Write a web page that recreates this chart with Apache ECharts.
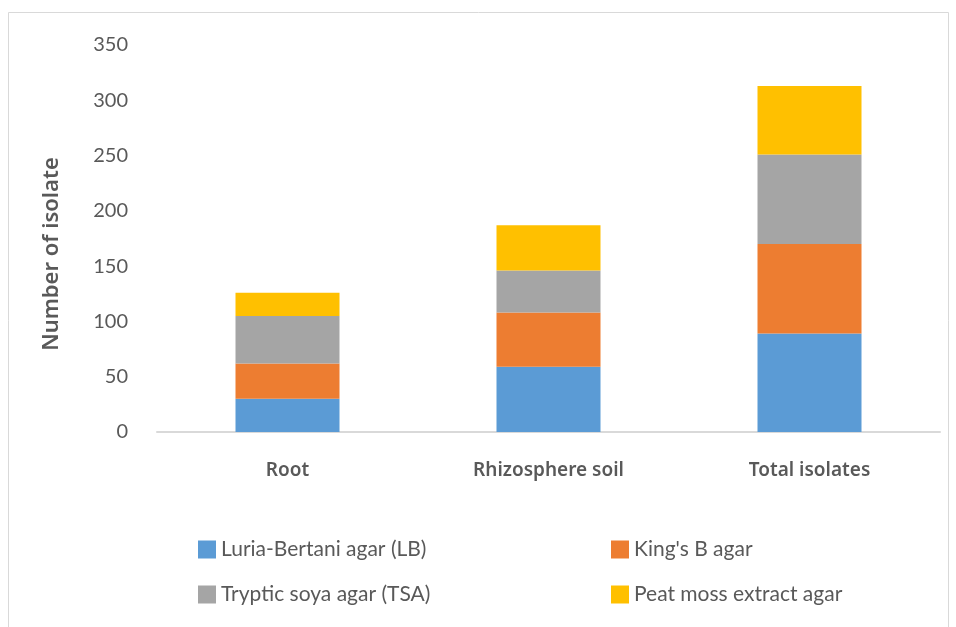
<!DOCTYPE html>
<html>
<head>
<meta charset="utf-8">
<script src="https://cdn.jsdelivr.net/npm/echarts@6/dist/echarts.min.js"></script>
<style>
  html, body { margin: 0; padding: 0; background: #ffffff; }
  #chart { width: 956px; height: 627px; }
</style>
</head>
<body>
<div id="chart"></div>
<script>
// Isolation sources and the number of isolates recovered on each medium
const categories = ['Root', 'Rhizosphere soil', 'Total isolates'];
const seriesNames = ['Luria-Bertani agar (LB)', "King's B agar", 'Tryptic soya agar (TSA)', 'Peat moss extract agar'];
const lbValues = [30, 59, 89];
const kingsBValues = [32, 49, 81];
const tsaValues = [43, 38, 81];
const peatMossValues = [21, 41, 62];
const yTicks = { min: 0, max: 350, interval: 50 };
const yAxisTitle = 'Number of isolate';

const colors = ['#5B9BD5', '#ED7D31', '#A5A5A5', '#FFC000'];
const valueSets = [lbValues, kingsBValues, tsaValues, peatMossValues];

const chart = echarts.init(document.getElementById('chart'));

const legendCommon = {
  orient: 'vertical',
  top: 534,
  itemWidth: 18,
  itemHeight: 18,
  itemGap: 24,
  icon: 'rect',
  textStyle: { fontFamily: 'Lato', fontSize: 21, color: '#595959', lineHeight: 18, padding: [0, 0, 0, 0] }
};

chart.setOption({
  backgroundColor: '#ffffff',
  animation: false,
  color: colors,
  grid: { left: 157, right: 16, top: 45, bottom: 195 },
  xAxis: {
    type: 'category',
    data: categories,
    axisLine: { lineStyle: { color: '#d9d9d9', width: 2 } },
    axisTick: { show: false },
    axisLabel: { margin: 29, fontFamily: 'Noto Sans', fontWeight: 600, fontSize: 19, color: '#595959' }
  },
  yAxis: {
    type: 'value',
    min: yTicks.min,
    max: yTicks.max,
    interval: yTicks.interval,
    axisLine: { show: false },
    axisTick: { show: false },
    splitLine: { show: false },
    axisLabel: { margin: 29, fontFamily: 'Lato', fontSize: 20, color: '#595959' }
  },
  legend: [
    Object.assign({ left: 193, data: [seriesNames[0], seriesNames[2]] }, legendCommon),
    Object.assign({ left: 606, data: [seriesNames[1], seriesNames[3]] }, legendCommon)
  ],
  graphic: [
    {
      type: 'rect',
      silent: true,
      shape: { x: 8.5, y: 12.5, width: 940, height: 700 },
      style: { fill: 'none', stroke: '#d9d9d9', lineWidth: 1 }
    },
    {
      type: 'text',
      x: 52,
      y: 254,
      rotation: Math.PI / 2,
      style: {
        text: yAxisTitle,
        fontFamily: 'Noto Sans',
        fontWeight: 600,
        fontSize: 22,
        fill: '#595959',
        align: 'center',
        verticalAlign: 'middle'
      }
    }
  ],
  series: seriesNames.map((name, i) => ({
    name: name,
    type: 'bar',
    stack: 'isolates',
    barWidth: 104,
    itemStyle: { color: colors[i] },
    data: valueSets[i]
  }))
});
</script>
</body>
</html>
